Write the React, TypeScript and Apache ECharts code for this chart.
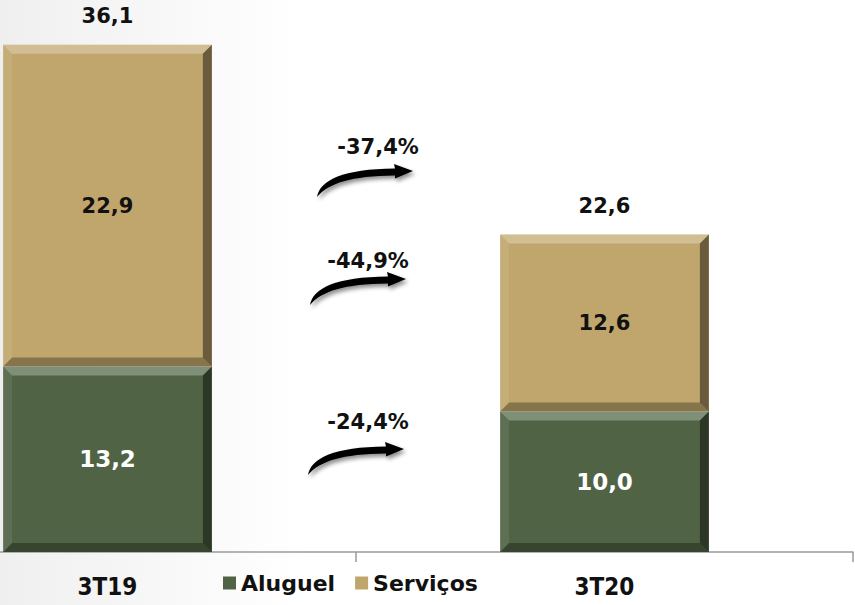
import React, { useEffect, useRef } from "react";
import * as echarts from "echarts";

const categories = ["3T19", "3T20"];
const aluguel = [13.2, 10.0];
const servicos = [22.9, 12.6];
const totals = [36.1, 22.6];
const changes = ["-37,4%", "-44,9%", "-24,4%"];

const GREEN = "#506445";
const TAN = "#c0a66c";
const FONT = "'DejaVu Sans', 'Open Sans', sans-serif";

const fmt = (v: number) => v.toFixed(1).replace(".", ",");

echarts.graphic.registerShape(
  "swoosh",
  echarts.graphic.extendPath(
    "M0,32 C3,15 26,4 78,3.5 L77,-1 L96,6 L78,13.5 L78,10.5 C34,11 12,18 0,32 Z",
    {}
  )
);

export default function App() {
  const ref = useRef<HTMLDivElement>(null);
  useEffect(() => {
    if (!ref.current) return;
    const chart = echarts.init(ref.current, null, { renderer: "svg" });

    const segs: number[][] = [];
    categories.forEach((_, i) => {
      segs.push([i, 0, aluguel[i]]);
      segs.push([i, aluguel[i], aluguel[i] + servicos[i]]);
    });

    const arrows = [
      { x: 317, y: 165, lx: 378, ly: 147 },
      { x: 310, y: 273, lx: 368, ly: 261 },
      { x: 308, y: 443, lx: 368, ly: 422 },
    ];

    const graphics: any[] = [];
    arrows.forEach((a, i) => {
      graphics.push({
        type: "swoosh",
        x: a.x,
        y: a.y,
        z: 10,
        style: {
          fill: "#000",
          shadowBlur: 4,
          shadowColor: "rgba(0,0,0,0.45)",
          shadowOffsetX: 2,
          shadowOffsetY: 3,
        },
      });
      graphics.push({
        type: "text",
        x: a.lx,
        y: a.ly,
        z: 10,
        style: {
          text: changes[i],
          fill: "#111",
          font: `bold 21px ${FONT}`,
          textAlign: "center",
          textVerticalAlign: "middle",
        },
      });
    });

    chart.setOption({
      animation: false,
      backgroundColor: {
        type: "linear",
        x: 0,
        y: 0,
        x2: 1,
        y2: 0,
        colorStops: [
          { offset: 0, color: "#efefef" },
          { offset: 0.35, color: "#ffffff" },
          { offset: 1, color: "#ffffff" },
        ],
      },
      grid: {
        left: -141,
        right: 2,
        top: -10,
        bottom: 53,
        containLabel: false,
        outerBoundsMode: "none",
      },
      legend: {
        left: 218,
        top: 567,
        icon: "rect",
        itemWidth: 13,
        itemHeight: 13,
        itemGap: 20,
        data: ["Aluguel", "Serviços"],
        textStyle: { fontSize: 22, fontWeight: "bold", color: "#111", fontFamily: FONT },
      },
      xAxis: {
        type: "category",
        data: categories,
        axisLine: { lineStyle: { color: "#9a9a9a", width: 1.5 } },
        axisTick: { show: true, length: 10, lineStyle: { color: "#9a9a9a", width: 1.5 } },
        axisLabel: {
          fontSize: 24,
          fontWeight: "bold",
          color: "#111",
          margin: 23,
          fontFamily: "'Liberation Sans Narrow', 'DejaVu Sans Condensed', sans-serif",
        },
      },
      yAxis: { type: "value", min: 0, max: 40, show: false, splitLine: { show: false } },
      series: [
        {
          name: "Aluguel",
          type: "bar",
          stack: "t",
          barWidth: "42%",
          data: aluguel,
          itemStyle: { color: GREEN },
          label: {
            show: true,
            position: "inside",
            formatter: (p: any) => fmt(p.value),
            color: "#fff",
            fontSize: 23,
            fontWeight: "bold",
            fontFamily: FONT,
          },
        },
        {
          name: "Serviços",
          type: "bar",
          stack: "t",
          barWidth: "42%",
          data: servicos,
          itemStyle: { color: TAN },
          label: {
            show: true,
            position: "inside",
            formatter: (p: any) => fmt(p.value),
            color: "#111",
            fontSize: 21,
            fontWeight: "bold",
            fontFamily: FONT,
          },
        },
        {
          name: "total",
          type: "bar",
          stack: "t",
          barWidth: "42%",
          data: totals.map(() => 0),
          itemStyle: { color: "transparent" },
          label: {
            show: true,
            position: "top",
            distance: 18,
            formatter: (p: any) => fmt(totals[p.dataIndex]),
            color: "#111",
            fontSize: 21,
            fontWeight: "bold",
            fontFamily: FONT,
          },
        },
        {
          name: "bevel",
          type: "custom",
          z: 5,
          silent: true,
          data: segs,
          renderItem: (params: any, api: any) => {
            const idx = api.value(0);
            const lo = api.coord([idx, api.value(1)]);
            const hi = api.coord([idx, api.value(2)]);
            const w = api.size([1, 0])[0] * 0.42;
            const x0 = lo[0] - w / 2;
            const x1 = lo[0] + w / 2;
            const yb = lo[1];
            const yt = hi[1];
            const b = 9;
            const poly = (pts: number[][], fill: string) => ({
              type: "polygon",
              shape: { points: pts },
              style: { fill },
            });
            return {
              type: "group",
              children: [
                poly([[x0, yt], [x1, yt], [x1 - b, yt + b], [x0 + b, yt + b]], "rgba(255,255,255,0.28)"),
                poly([[x0, yt], [x0 + b, yt + b], [x0 + b, yb - b], [x0, yb]], "rgba(255,255,255,0.08)"),
                poly([[x1, yt], [x1, yb], [x1 - b, yb - b], [x1 - b, yt + b]], "rgba(0,0,0,0.45)"),
                poly([[x0, yb], [x1, yb], [x1 - b, yb - b], [x0 + b, yb - b]], "rgba(0,0,0,0.3)"),
              ],
            };
          },
        },
      ],
      graphic: graphics,
    });
    return () => chart.dispose();
  }, []);
  return (
    <div
      ref={ref}
      style={{ position: "fixed", left: 0, top: 0, width: 855, height: 605 }}
    />
  );
}
